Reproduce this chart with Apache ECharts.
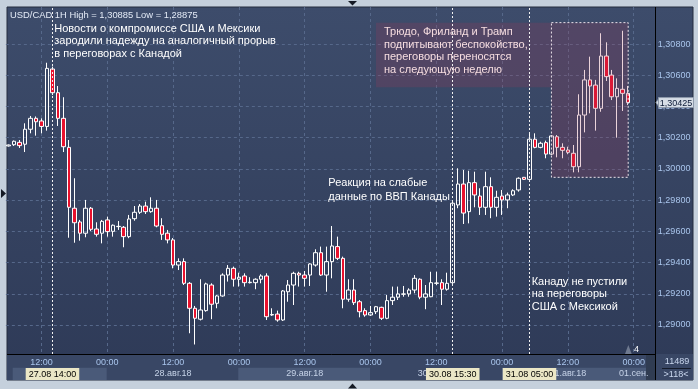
<!DOCTYPE html>
<html><head><meta charset="utf-8">
<script src="https://cdn.jsdelivr.net/npm/echarts@6/dist/echarts.min.js"></script>
<style>html,body{margin:0;padding:0;background:#c5d0dc;}#c{width:698px;height:389px;}</style>
</head><body><div id="c"></div>
<script>
// ---- data ----
const dayKeys = ['27.08','28.08','29.08','30.08','31.08','01.09'];
const categories = [];
(function(){ let h = 6, d = 0; for (let i = 0; i < 118; i++) { categories.push(dayKeys[d] + ' ' + String(h).padStart(2,'0') + ':00'); h++; if (h === 24) { h = 0; d++; } } })();

const opens = [
1.30147,1.30155,1.30170,1.30158,1.30254,1.30324,1.30307,1.30272,1.30640,1.30488,
1.30324,1.30138,1.29748,1.29660,1.29588,1.29748,1.29615,1.29588,1.29673,1.29600,
1.29630,1.29626,1.29566,1.29681,1.29722,1.29762,1.29726,1.29748,1.29636,1.29588,
1.29545,1.29384,1.29406,1.29267,1.29107,1.29037,1.29092,1.29256,1.29139,1.29186,
1.29320,1.29363,1.29293,1.29314,1.29271,1.29271,1.29293,1.29314,1.29064,1.29070,
1.29032,1.29213,1.29256,1.29331,1.29320,1.29320,1.29384,1.29463,1.29320,1.29406,
1.29502,1.29427,1.29165,1.29224,1.29149,1.29092,1.29064,1.29085,1.29113,1.29043,
1.29156,1.29178,1.29197,1.29199,1.29224,1.29293,1.29178,1.29181,1.29267,1.29271,
1.29229,1.29271,1.29769,1.29903,1.29726,1.29912,1.29826,1.29754,1.29886,1.29754,
1.29826,1.29801,1.29833,1.29865,1.29946,1.29933,1.30190,1.30138,1.30168,1.30095,
1.30206,1.30138,1.30121,1.30100,1.30014,1.30345,1.30570,1.30537,1.30388,1.30723,
1.30601,1.30462,1.30510,1.30484];
const closes = [
1.30153,1.30177,1.30149,1.30254,1.30324,1.30302,1.30272,1.30644,1.30488,1.30324,
1.30142,1.29754,1.29655,1.29588,1.29748,1.29613,1.29581,1.29664,1.29598,1.29639,
1.29632,1.29566,1.29679,1.29722,1.29762,1.29726,1.29748,1.29634,1.29581,1.29545,
1.29384,1.29406,1.29267,1.29107,1.29043,1.29096,1.29263,1.29133,1.29186,1.29320,
1.29363,1.29293,1.29306,1.29271,1.29274,1.29293,1.29314,1.29053,1.29067,1.29032,
1.29218,1.29256,1.29331,1.29320,1.29299,1.29391,1.29463,1.29320,1.29406,1.29506,
1.29427,1.29165,1.29224,1.29143,1.29085,1.29064,1.29079,1.29117,1.29043,1.29156,
1.29178,1.29199,1.29199,1.29224,1.29299,1.29178,1.29199,1.29271,1.29269,1.29229,
1.29267,1.29780,1.29903,1.29717,1.29912,1.29833,1.29754,1.29886,1.29754,1.29818,
1.29801,1.29833,1.29860,1.29940,1.29933,1.30190,1.30138,1.30164,1.30095,1.30211,
1.30138,1.30119,1.30106,1.30014,1.30345,1.30570,1.30531,1.30388,1.30723,1.30591,
1.30462,1.30516,1.30484,1.30425];
const lows = [
1.30143,1.30147,1.30134,1.30108,1.30228,1.30213,1.30228,1.30245,1.30473,1.30275,
1.30108,1.29559,1.29527,1.29540,1.29562,1.29602,1.29566,1.29523,1.29566,1.29566,
1.29609,1.29498,1.29556,1.29668,1.29711,1.29711,1.29719,1.29626,1.29545,1.29523,
1.29363,1.29352,1.29256,1.28947,1.28875,1.29029,1.29085,1.29037,1.29107,1.29181,
1.29278,1.29246,1.29246,1.29246,1.29266,1.29229,1.29267,1.29032,1.29058,1.29021,
1.29026,1.29149,1.29128,1.29246,1.29246,1.29250,1.29374,1.29314,1.29213,1.29299,
1.29416,1.29107,1.29149,1.29128,1.29049,1.29053,1.29058,1.29070,1.29032,1.29037,
1.29128,1.29160,1.29181,1.29181,1.29203,1.29165,1.29101,1.29178,1.29256,1.29128,
1.29220,1.29263,1.29748,1.29647,1.29651,1.29754,1.29705,1.29705,1.29684,1.29694,
1.29705,1.29748,1.29826,1.29854,1.29929,1.29929,1.30132,1.30132,1.30068,1.30089,
1.30074,1.30068,1.30094,1.29978,1.29978,1.30234,1.30356,1.30245,1.30366,1.30563,
1.30441,1.30200,1.30371,1.30409];
const highs = [
1.30156,1.30182,1.30185,1.30292,1.30339,1.30336,1.30324,1.30680,1.30655,1.30531,
1.30459,1.30185,1.29940,1.29673,1.29801,1.29756,1.29658,1.29673,1.29694,1.29644,
1.29666,1.29634,1.29705,1.29762,1.29775,1.29790,1.29818,1.29801,1.29684,1.29609,
1.29557,1.29427,1.29427,1.29275,1.29122,1.29293,1.29271,1.29267,1.29192,1.29331,
1.29384,1.29374,1.29335,1.29331,1.29306,1.29299,1.29325,1.29331,1.29107,1.29092,
1.29224,1.29288,1.29341,1.29341,1.29346,1.29395,1.29485,1.29502,1.29502,1.29634,
1.29566,1.29438,1.29293,1.29293,1.29160,1.29107,1.29122,1.29122,1.29117,1.29192,
1.29246,1.29246,1.29250,1.29235,1.29320,1.29299,1.29256,1.29341,1.29341,1.29293,
1.29335,1.29790,1.30004,1.29993,1.29988,1.29982,1.29876,1.29982,1.29946,1.29860,
1.29865,1.29848,1.29869,1.29946,1.29948,1.30228,1.30228,1.30174,1.30181,1.30217,
1.30217,1.30164,1.30142,1.30153,1.30478,1.30634,1.30719,1.30570,1.30869,1.30811,
1.30634,1.30580,1.30885,1.30531];

const priceMin = 1.288, priceMax = 1.310, priceStep = 0.002;
const dateTicks = {'28.08 12:00':'28.авг.18','29.08 12:00':'29.авг.18','30.08 12:00':'30.авг.18','31.08 12:00':'31.авг.18','01.09 00:00':'01.сен.'};
const eventLines = [[8,'27.08 14:00'],[81,'30.08 15:30'],[95,'31.08 05:00']];
const boxTextArea = [67, 1.30937, 99, 1.30523];
const boxRect = [99, 1.30937, 113, 1.29946];
const note1 = 'Новости о компромиссе США и Мексики\nзародили надежду на аналогичный прорыв\nв переговорах с Канадой';
const note2 = 'Трюдо, Фриланд и Трамп\nподпитывают беспокойство,\nпереговоры переносятся\nна следующую неделю';
const note3 = 'Реакция на слабые\nданные по ВВП Канады';
const note4 = 'Канаду не пустили\nна переговоры\nСША с Мексикой';

// ---- chart ----
const fmt = v => v.toFixed(5).replace('.', ',');
const isMajor = v => v.endsWith(' 00:00') || v.endsWith(' 12:00');
const candleData = opens.map((o, i) => [o, closes[i], lows[i], highs[i]]);
const hi = Math.max(...highs), lo = Math.min(...lows);
const lastClose = closes[closes.length - 1];
const FONT = 'Liberation Sans';
const GL = 5.86, GW = 647;
const chart = echarts.init(document.getElementById('c'), null, {renderer: 'canvas', width: 698, height: 389});
const grad = {type:'linear', x:0, y:0, x2:0, y2:1, colorStops:[{offset:0,color:'#3d4c6b'},{offset:1,color:'#2e3a57'}]};
const noteStyle = (t, c) => ({text: t, fill: c, fontSize: 11, fontFamily: FONT, lineHeight: 12.5, verticalAlign: 'top', align: 'left'});

chart.setOption({
  animation: false,
  backgroundColor: 'transparent',
  textStyle: {fontFamily: FONT},
  grid: [
    {left: GL, width: GW, top: 12.8, bottom: 32.8},
    {left: GL, width: GW, top: 7, bottom: 35}
  ],
  xAxis: [
    {type:'category', gridIndex:0, position:'bottom', data: categories, boundaryGap: true, show: false},
    {type:'category', gridIndex:1, position:'bottom', data: categories, boundaryGap: true,
      axisLine:{show:false}, axisTick:{show:false},
      axisLabel:{interval:(i, v) => isMajor(v), formatter: v => v.slice(6), color:'#a9c5ec', fontSize:9, fontFamily: FONT, margin:4},
      splitLine:{show:true, alignWithLabel:true, interval:(i, v) => isMajor(v), lineStyle:{color:'#56688a', type:[3,3], width:1}}},
    {type:'category', gridIndex:1, position:'bottom', data: categories, boundaryGap: true,
      axisLine:{show:false}, axisTick:{show:false}, splitLine:{show:false},
      axisLabel:{interval:(i, v) => v in dateTicks, formatter: v => dateTicks[v] || '', color:'#c6d3e8', fontSize:9, fontFamily: FONT, margin:15}}
  ],
  yAxis: [
    {type:'value', gridIndex:0, position:'right', min: priceMin, max: priceMax, interval: priceStep, scale: true,
      axisLine:{show:false}, axisTick:{show:false},
      axisLabel:{formatter: fmt, color:'#a9c5ec', fontSize:9, fontFamily: FONT, margin:5, showMinLabel:false, showMaxLabel:false},
      splitLine:{show:true, showMinLine:false, showMaxLine:false, lineStyle:{color:'#56688a', type:[3,3], width:1}}},
    {type:'value', gridIndex:1, min:0, max:1, show:false}
  ],
  graphic: [
    {type:'rect', z:-10, silent:true, shape:{x:7, y:7, width:686, height:373}, style:{fill: grad, stroke:'#252d3e', lineWidth:1}},
    {type:'rect', z:-9, silent:true, shape:{x:7, y:354, width:686, height:26}, style:{fill:'#394765'}},
    {type:'rect', z:-8, silent:true, shape:{x:12.7, y:367.7, width:94, height:12.3}, style:{fill:'#4a5a79'}},
    {type:'rect', z:-8, silent:true, shape:{x:238.3, y:367.7, width:131.7, height:12.3}, style:{fill:'#4a5a79'}},
    {type:'rect', z:-8, silent:true, shape:{x:502, y:367.7, width:144, height:12.3}, style:{fill:'#4a5a79'}},
    {type:'rect', z:-8, silent:true, shape:{x:646, y:355, width:9, height:25}, style:{fill:'#303c52'}},
    {type:'line', z:20, silent:true, shape:{x1:655.5, y1:7, x2:655.5, y2:380}, style:{stroke:'#000', lineWidth:1}},
    {type:'line', z:20, silent:true, shape:{x1:7, y1:354.5, x2:655.5, y2:354.5}, style:{stroke:'#000', lineWidth:1}},
    {type:'line', z:20, silent:true, shape:{x1:662, y1:368.5, x2:691, y2:368.5}, style:{stroke:'#151c2b', lineWidth:1}},
    {type:'text', z:20, silent:true, x:677, y:362, style:{text:'11489', fill:'#c9d7ee', fontSize:9, fontFamily:FONT, align:'center', verticalAlign:'middle'}},
    {type:'text', z:20, silent:true, x:676, y:374.5, style:{text:'>118<', fill:'#c9d7ee', fontSize:9, fontFamily:FONT, align:'center', verticalAlign:'middle'}},
    {type:'polygon', z:20, silent:true, shape:{points:[[625,354],[628.3,345],[631.7,354]]}, style:{fill:'#6f7a90'}},
    {type:'text', z:20, silent:true, x:636.5, y:350, style:{text:'4', fill:'#ffffff', fontSize:9, fontFamily:FONT, align:'center', verticalAlign:'middle'}},
    {type:'polygon', z:20, silent:true, shape:{points:[[348,1],[357,1],[352.5,5.5]]}, style:{fill:'#151a24'}},
    {type:'polygon', z:20, silent:true, shape:{points:[[348,388.5],[357,388.5],[352.5,383.5]]}, style:{fill:'#151a24'}},
    {type:'polygon', z:20, silent:true, shape:{points:[[1,189],[6,193.5],[1,198]]}, style:{fill:'#151a24'}},
    {type:'text', z:20, silent:true, x:10, y:15.5, style:{text:'USD/CAD 1H High = ' + fmt(hi) + ' Low = ' + fmt(lo), fill:'#e3eaf6', fontSize:9.4, fontFamily:FONT, verticalAlign:'middle'}},
    {type:'text', z:20, silent:true, x:54.3, y:22.6, style: noteStyle(note1, '#ffffff')},
    {type:'text', z:20, silent:true, x:384, y:25.9, style: noteStyle(note2, '#f6dde0')},
    {type:'text', z:20, silent:true, x:328.3, y:176.6, style: Object.assign(noteStyle(note3, '#ffffff'), {lineHeight:13.3})},
    {type:'text', z:20, silent:true, x:531.7, y:275.6, style: noteStyle(note4, '#ffffff')}
  ],
  series: [
    {type:'candlestick', xAxisIndex:0, yAxisIndex:0, data: candleData, barWidth: 4, z: 2,
      itemStyle:{color:'transparent', color0:'#e8112d', borderColor:'#ffffff', borderColor0:'#ffffff', borderWidth:1}},
    {type:'line', xAxisIndex:0, yAxisIndex:0, data: [], z: 6,
      markArea:{silent:true, z: 6,
        itemStyle:{color:'rgba(165,55,85,0.22)'},
        data:[
          [{xAxis: boxTextArea[0], yAxis: boxTextArea[1], itemStyle:{borderWidth:0}}, {xAxis: boxTextArea[2], yAxis: boxTextArea[3]}],
          [{xAxis: boxRect[0], yAxis: boxRect[1], itemStyle:{borderColor:'#ece2ea', borderWidth:1, borderType:[2,2]}}, {xAxis: boxRect[2], yAxis: boxRect[3]}]
        ]}},
    {type:'line', xAxisIndex:1, yAxisIndex:1, data: [], z: 7,
      markLine:{silent:true, symbol:'none', z: 7,
        lineStyle:{color:'#f2f2f2', type:[2,2], width:1},
        label:{position:'start', distance:14, color:'#000', fontSize:9, fontFamily:FONT, backgroundColor:'#ebe7c6', padding:[2,3,1,3], formatter: p => p.name},
        data: eventLines.map(e => ({xAxis: e[0], name: e[1]}))}}
  ]
});

// last-price tag on the price axis, placed through the axis scale
const py = chart.convertToPixel({yAxisIndex: 0}, lastClose);
chart.setOption({graphic: [
  {id:'priceArrow', type:'polygon', z:30, silent:true, shape:{points:[[656, py],[659.5, py - 5],[659.5, py + 5]]}, style:{fill:'#d6dde6', stroke:'#8d99aa', lineWidth:1}},
  {id:'priceBox', type:'rect', z:31, silent:true, shape:{x:658.5, y: py - 5, width:35, height:10}, style:{fill:'#d6dde6', stroke:'#8d99aa', lineWidth:1}},
  {id:'priceText', type:'text', z:32, silent:true, x:676, y: py + 0.5, style:{text: fmt(lastClose), fill:'#0c1a36', fontSize:9, fontFamily:FONT, align:'center', verticalAlign:'middle'}}
]});
</script></body></html>
